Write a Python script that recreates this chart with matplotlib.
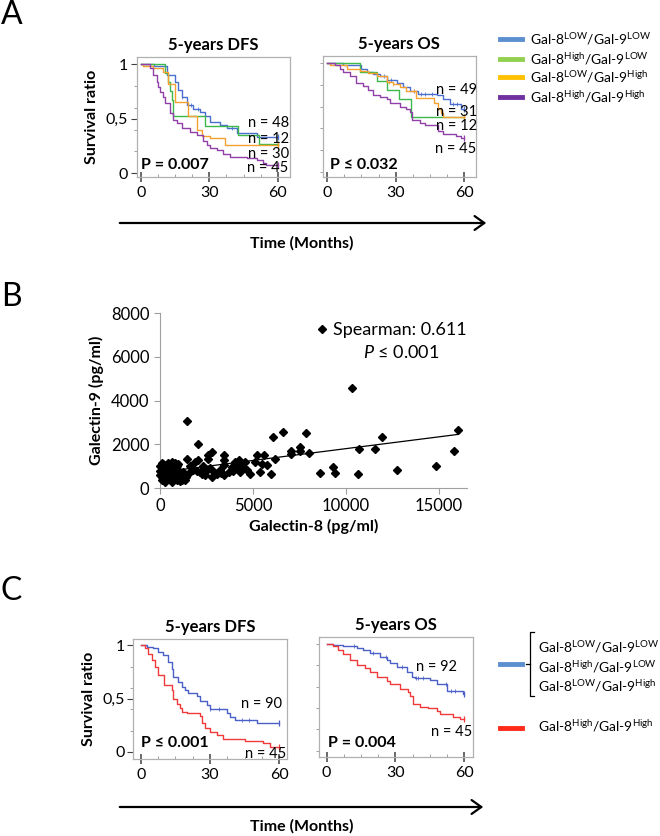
import numpy as np
import matplotlib as mpl
import matplotlib.pyplot as plt
from matplotlib.ticker import FixedLocator, MultipleLocator

mpl.rcParams['font.family'] = ['Lato', 'DejaVu Sans']
mpl.rcParams['mathtext.fontset'] = 'custom'
mpl.rcParams['mathtext.rm'] = 'Lato'
mpl.rcParams['mathtext.it'] = 'Lato:italic'
mpl.rcParams['mathtext.bf'] = 'Lato:bold'

# ---- data: panel A, 4 groups (step times in months, survival ratio) ----
a_dfs_blue_t = [0, 5.7, 11.3, 14.9, 16.4, 17.8, 20, 23, 25.9, 28, 30.3, 34.7, 37.6, 42, 50.8]
a_dfs_blue_s = [1, 0.985, 0.9, 0.84, 0.76, 0.70, 0.625, 0.59, 0.56, 0.52, 0.47, 0.44, 0.41, 0.37, 0.33]
a_dfs_green_t = [0, 10.5, 12, 12.7, 13.5, 14.2, 28, 42.7, 52]
a_dfs_green_s = [1, 0.917, 0.833, 0.75, 0.667, 0.52, 0.43, 0.35, 0.27]
a_dfs_orange_t = [0, 1, 5.4, 9.8, 12, 14.9, 20.6, 24.4, 26.6, 30.3, 36.9]
a_dfs_orange_s = [1, 0.98, 0.96, 0.93, 0.82, 0.65, 0.52, 0.40, 0.34, 0.32, 0.26]
a_dfs_purple_t = [0, 4, 5.4, 6.9, 7.6, 8.3, 9.8, 10.5, 12.7, 14.2, 15.7, 17.9, 21.5, 24.4, 27.4, 28.8,
                  30.3, 33.2, 36.2, 39, 46.4, 50.8, 53.7, 55]
a_dfs_purple_s = [1, 0.96, 0.9, 0.84, 0.79, 0.74, 0.70, 0.64, 0.55, 0.49, 0.46, 0.41, 0.38, 0.35, 0.30, 0.26,
                  0.23, 0.21, 0.18, 0.15, 0.14, 0.12, 0.09, 0.08]

a_os_blue_t = [0, 7, 15, 17.2, 20, 23, 26, 30.4, 33.3, 36.2, 39.9, 47.9, 50.8, 53.7, 58.8]
a_os_blue_s = [1, 0.985, 0.95, 0.92, 0.9, 0.88, 0.85, 0.82, 0.78, 0.74, 0.72, 0.71, 0.67, 0.62, 0.58]
a_os_green_t = [0, 14.3, 21.6, 26.0, 31.5, 36.5]
a_os_green_s = [1, 0.917, 0.833, 0.75, 0.667, 0.5]
a_os_orange_t = [0, 1, 8.5, 14.3, 18, 21.6, 26, 29, 31.8, 34.7, 39, 47, 48.6, 50, 50.8]
a_os_orange_s = [1, 0.985, 0.95, 0.93, 0.91, 0.88, 0.83, 0.81, 0.78, 0.74, 0.68, 0.63, 0.58, 0.54, 0.5]
a_os_purple_t = [0, 3.4, 5.5, 7, 9.9, 12.8, 15.8, 18, 20, 23, 26, 27.4, 31.8, 34.7, 36.2, 37, 40.6, 42.8,
                 48.6, 50.8, 56.6, 58.8]
a_os_purple_s = [1, 0.985, 0.95, 0.92, 0.88, 0.82, 0.79, 0.75, 0.71, 0.69, 0.67, 0.63, 0.60, 0.58, 0.55,
                 0.48, 0.45, 0.43, 0.38, 0.35, 0.33, 0.31]

a_os_blue_cens = [25, 28, 38, 41, 43, 46, 55, 57]
a_os_orange_cens = [27, 29, 38]
a_dfs_blue_cens = [18, 22, 25, 40]

a_dfs_n = ['n = 48', 'n = 12', 'n = 30', 'n = 45']
a_dfs_n_y = [0.46, 0.31, 0.18, 0.045]
a_os_n = ['n = 49', 'n = 31', 'n = 12', 'n = 45']
a_os_n_y = [0.75, 0.55, 0.42, 0.21]

# ---- data: panel B ----
gal8 = [1475, 2033, 6081, 6621, 90, 180, 270, 90, 90, 270, 450, 540, 630, 810, 990, 810, 1079, 1169,
        1349, 1403, 900, 630, 360, 1259, 1475, 1619, 1889, 2069, 1799, 2159, 2249, 2429, 2519, 2555,
        2789, 2555, 2789, 2878, 3058, 3238, 3454, 3418, 3454, 3418, 3688, 3868, 4048, 4228, 4138, 4318,
        4588, 4677, 4857, 5127, 5217, 5577, 5487, 5397, 5757, 5973, 6207, 7025, 7025, 7527, 7527, 8010,
        7849, 10340, 16038, 11917, 10698, 11576, 15805, 14838, 12723, 10626, 9426, 9318, 8620,
        0, 0, 90, 180, 270, 360, 450, 540, 630, 720, 810, 900, 990, 1080, 1170, 180, 0, 270, 450, 720,
        1000, 2300, 2700, 3300, 3900, 4400, 2000, 1600]
gal9 = [3042, 1993, 2327, 2555, 1141, 958, 730, 502, 350, 274, 426, 654, 1186, 1141, 1110, 806, 654, 350,
        380, 502, 350, 274, 578, 730, 1338, 730, 1186, 1262, 806, 730, 654, 578, 806, 1521,
        1643, 1338, 502, 730, 654, 806, 1491, 1262, 1034, 578, 730, 958, 1186, 1262, 958, 730,
        1186, 806, 654, 1186, 1491, 1491, 1110, 730, 1034, 624, 1338, 1707, 1570, 1874, 1692, 1600,
        2530, 4572, 2637, 2332, 1798, 1768, 1692, 1006, 823, 640, 701, 960, 670,
        800, 600, 700, 400, 900, 1000, 800, 450, 900, 350, 600, 1000, 500, 300, 700, 1100, 1000, 550,
        1150, 1000, 800, 1000, 900, 700, 800, 1000, 800, 1000]
fit_intercept = 720
fit_slope = 0.108

# ---- data: panel C, 2 groups ----
c_dfs_blue_t = [0, 2.6, 5.5, 7.6, 9.8, 12, 13.4, 14.1, 16.3, 17.7, 19.2, 20.6, 24.2, 25.7, 28.6, 30,
                37.2, 38.7, 40.8, 50.2]
c_dfs_blue_s = [1, 0.98, 0.97, 0.94, 0.91, 0.84, 0.78, 0.70, 0.66, 0.61, 0.58, 0.55, 0.52, 0.48, 0.44,
                0.40, 0.36, 0.33, 0.30, 0.27]
c_dfs_red_t = [0, 1.9, 3.3, 4.8, 6.2, 7.6, 10.1, 13.4, 14.1, 15.6, 17, 17.7, 19.9, 25.7, 26.4, 27.8, 30,
               32.9, 35.8, 45, 53, 56]
c_dfs_red_s = [1, 0.97, 0.92, 0.86, 0.80, 0.72, 0.63, 0.58, 0.5, 0.45, 0.41, 0.375, 0.36, 0.34, 0.27,
               0.22, 0.19, 0.16, 0.125, 0.10, 0.08, 0.05]
c_os_blue_t = [0, 2.9, 7.3, 13.1, 16, 18.9, 23.3, 26.2, 27.6, 30.5, 34.9, 37.1, 38.5, 45, 48, 52.3, 59.6]
c_os_blue_s = [1, 0.99, 0.975, 0.96, 0.94, 0.91, 0.88, 0.85, 0.82, 0.78, 0.74, 0.69, 0.68, 0.66, 0.62,
               0.56, 0.53]
c_os_red_t = [0, 2.9, 5.1, 7.3, 10.2, 13.1, 16.7, 18.9, 21.8, 26.2, 27.6, 32, 35.6, 36.3, 37.8, 40.7,
              44.3, 48, 49.4, 55.2, 58.1]
c_os_red_s = [1, 0.975, 0.94, 0.9, 0.85, 0.8, 0.77, 0.74, 0.69, 0.65, 0.62, 0.58, 0.55, 0.51, 0.44, 0.41,
              0.40, 0.37, 0.34, 0.32, 0.30]
c_dfs_blue_cens = [30, 34, 44, 47]
c_os_blue_cens = [12, 20, 26, 33, 39, 40, 42, 52, 54, 56]

legend_a = [r'Gal-8$^{\mathrm{LOW}}$/Gal-9$^{\mathrm{LOW}}$',
            r'Gal-8$^{\mathrm{High}}$/Gal-9$^{\mathrm{LOW}}$',
            r'Gal-8$^{\mathrm{LOW}}$/Gal-9$^{\mathrm{High}}$',
            r'Gal-8$^{\mathrm{High}}$/Gal-9$^{\mathrm{High}}$']
legend_a_colors = ['#5b8fd0', '#92d050', '#ffc000', '#7030a0']
line_a_colors = ['#4a6fcf', '#3cb94a', '#f5a030', '#9040a8']

W, H = 660, 836
fig = plt.figure(figsize=(W / 100, H / 100), dpi=100)

TICK_FS = 11.5
N_FS = 10.5
P_FS = 11.5
TITLE_FS = 12
LAB_FS = 11.5
LEG_FS = 10


def ax_px(l, t, r, b):
    return fig.add_axes([l / W, 1 - b / H, (r - l) / W, (b - t) / H])


def km(ax, t, s, c, cens=()):
    t = list(t) + [60]
    s = list(s) + [s[-1]]
    ax.step(t, s, where='post', color=c, lw=1.0)
    ax.plot([60], [s[-1]], '|', color=c, ms=5, mew=0.9)
    if len(cens):
        idx = np.searchsorted(t, cens, side='right') - 1
        ax.plot(cens, np.array(s)[idx], '|', color=c, ms=3.5, mew=0.7, alpha=0.8)


def style_km(ax, xlim, ylim, labels):
    ax.set_xlim(*xlim)
    ax.set_ylim(*ylim)
    for sp in ax.spines.values():
        sp.set_color('#b0b0b0')
        sp.set_linewidth(0.9)
    ax.xaxis.set_major_locator(FixedLocator([0, 30, 60]))
    ax.xaxis.set_minor_locator(MultipleLocator(7.5))
    ax.tick_params(axis='x', which='major', direction='inout', length=7, width=1.1, color='#404040',
                   labelsize=TICK_FS, pad=3)
    ax.tick_params(axis='x', which='minor', direction='in', length=2, color='#909090')
    ax.yaxis.set_minor_locator(MultipleLocator(0.2))
    ax.tick_params(axis='y', which='minor', direction='out', length=2, color='#909090')
    if labels:
        ax.yaxis.set_major_locator(FixedLocator([0, 0.5, 1]))
        ax.set_yticklabels(['0', '0,5', '1'])
        ax.tick_params(axis='y', which='major', direction='out', length=4, color='#404040',
                       labelsize=TICK_FS, pad=2)
    else:
        ax.yaxis.set_major_locator(FixedLocator([]))


def time_arrow(y, x0, x1, label_y):
    fig.add_artist(mpl.patches.FancyArrowPatch((x0 / W, 1 - y / H), (x1 / W, 1 - y / H),
                                               transform=fig.transFigure,
                                               arrowstyle='->,head_length=7,head_width=5',
                                               color='black', lw=1.6, mutation_scale=1))
    fig.text(302 / W, 1 - label_y / H, 'Time (Months)', ha='center', va='center', fontsize=LAB_FS,
             fontweight='bold')


# ================= Panel A =================
fig.text(1 / W, 1 - 15 / H, 'A', fontsize=23, va='center', ha='left')
ax1 = ax_px(136.7, 56.7, 290, 177)
km(ax1, a_dfs_blue_t, a_dfs_blue_s, line_a_colors[0], a_dfs_blue_cens)
km(ax1, a_dfs_green_t, a_dfs_green_s, line_a_colors[1])
km(ax1, a_dfs_orange_t, a_dfs_orange_s, line_a_colors[2])
km(ax1, a_dfs_purple_t, a_dfs_purple_s, line_a_colors[3])
style_km(ax1, (-1.9, 65.4), (-0.034, 1.067), True)
for lab, yy in zip(a_dfs_n, a_dfs_n_y):
    ax1.text(64.8, yy, lab, ha='right', va='center', fontsize=N_FS)
ax1.text(0, 0.08, 'P = 0.007', fontsize=P_FS, fontweight='bold', va='center')
ax1.set_title('5-years DFS', fontsize=TITLE_FS, fontweight='bold', pad=5)
ax1.set_ylabel('Survival ratio', fontsize=LAB_FS, fontweight='bold', labelpad=5)

ax2 = ax_px(322.7, 56, 476, 176.7)
km(ax2, a_os_blue_t, a_os_blue_s, line_a_colors[0], a_os_blue_cens)
km(ax2, a_os_green_t, a_os_green_s, line_a_colors[1])
km(ax2, a_os_orange_t, a_os_orange_s, line_a_colors[2], a_os_orange_cens)
km(ax2, a_os_purple_t, a_os_purple_s, line_a_colors[3])
style_km(ax2, (-2.0, 65.2), (-0.046, 1.067), False)
for lab, yy in zip(a_os_n, a_os_n_y):
    ax2.text(65.5, yy, lab, ha='right', va='center', fontsize=N_FS)
ax2.text(1, 0.06, 'P ≤ 0.032', fontsize=P_FS, fontweight='bold', va='center')
ax2.set_title('5-years OS', fontsize=TITLE_FS, fontweight='bold', pad=5)

legend_a_y = [39, 59, 77, 97]
for lab, c, yy in zip(legend_a, legend_a_colors, legend_a_y):
    fig.add_artist(mpl.lines.Line2D([500 / W, 522 / W], [1 - yy / H, 1 - yy / H], color=c, lw=3.5,
                                    transform=fig.transFigure))
    fig.text(530 / W, 1 - yy / H, lab, fontsize=LEG_FS, va='center', ha='left')

time_arrow(223, 117, 489, 243)

# ================= Panel B =================
fig.text(1 / W, 1 - 297 / H, 'B', fontsize=23, va='center', ha='left')
ax3 = ax_px(160, 313, 467, 488)
ax3.plot(gal8, gal9, 'D', color='black', ms=4.2, clip_on=False, zorder=3)
xf = np.array([0, max(gal8)])
ax3.plot(xf, fit_intercept + fit_slope * xf, color='black', lw=0.9)
ax3.set_xlim(0, 16500)
ax3.set_ylim(0, 8000)
ax3.set_xticks([0, 5000, 10000, 15000])
ax3.set_yticks([0, 2000, 4000, 6000, 8000])
for sp in ['top', 'right']:
    ax3.spines[sp].set_visible(False)
for sp in ['left', 'bottom']:
    ax3.spines[sp].set_color('#a0a0a0')
ax3.tick_params(axis='both', color='#a0a0a0', labelsize=12, length=4)
ax3.set_xlabel('Galectin-8 (pg/ml)', fontsize=LAB_FS, fontweight='bold', labelpad=3)
ax3.set_ylabel('Galectin-9 (pg/ml)', fontsize=LAB_FS, fontweight='bold', labelpad=5)
fig.add_artist(mpl.lines.Line2D([322 / W], [1 - 329 / H], marker='D', color='black', ms=4,
                                transform=fig.transFigure))
fig.text(333 / W, 1 - 330 / H, 'Spearman: 0.611', fontsize=13, va='center', ha='left')
fig.text(401 / W, 1 - 353 / H, r'$P$ ≤ 0.001', fontsize=13, va='center', ha='center')

# ================= Panel C =================
fig.text(1 / W, 1 - 591 / H, 'C', fontsize=23, va='center', ha='left')
blue_c, red_c = '#4a5fc8', '#f03a3a'
ax4 = ax_px(133.3, 639.3, 287.3, 759.3)
km(ax4, c_dfs_blue_t, c_dfs_blue_s, blue_c, c_dfs_blue_cens)
km(ax4, c_dfs_red_t, c_dfs_red_s, red_c)
style_km(ax4, (-3.2, 63.5), (-0.07, 1.056), True)
ax4.text(61, 0.45, 'n = 90', ha='right', va='center', fontsize=N_FS)
ax4.text(63, -0.02, 'n = 45', ha='right', va='center', fontsize=N_FS)
ax4.text(0, 0.08, 'P ≤ 0.001', fontsize=P_FS, fontweight='bold', va='center')
ax4.set_title('5-years DFS', fontsize=TITLE_FS, fontweight='bold', pad=5)
ax4.set_ylabel('Survival ratio', fontsize=LAB_FS, fontweight='bold', labelpad=5)

ax5 = ax_px(319.3, 637.3, 473.3, 757.3)
km(ax5, c_os_blue_t, c_os_blue_s, blue_c, c_os_blue_cens)
km(ax5, c_os_red_t, c_os_red_s, red_c)
style_km(ax5, (-3.2, 63.9), (-0.06, 1.06), False)
ax5.text(57, 0.78, 'n = 92', ha='right', va='center', fontsize=N_FS)
ax5.text(63.5, 0.18, 'n = 45', ha='right', va='center', fontsize=N_FS)
ax5.text(0.5, 0.075, 'P = 0.004', fontsize=P_FS, fontweight='bold', va='center')
ax5.set_title('5-years OS', fontsize=TITLE_FS, fontweight='bold', pad=5)

fig.add_artist(mpl.lines.Line2D([500 / W, 522 / W], [1 - 664 / H, 1 - 664 / H], color='#5b8fd0', lw=3.5,
                                transform=fig.transFigure))
fig.add_artist(mpl.lines.Line2D([534 / W, 530 / W, 530 / W, 534 / W],
                                [1 - 632 / H, 1 - 632 / H, 1 - 696 / H, 1 - 696 / H],
                                color='black', lw=0.9, transform=fig.transFigure))
fig.add_artist(mpl.lines.Line2D([526 / W, 530 / W], [1 - 664 / H, 1 - 664 / H], color='black', lw=0.9,
                                transform=fig.transFigure))
for lab, yy in zip(legend_a[:3], [647, 667, 686]):
    fig.text(538 / W, 1 - yy / H, lab, fontsize=LEG_FS, va='center', ha='left')
fig.add_artist(mpl.lines.Line2D([500 / W, 522 / W], [1 - 728 / H, 1 - 728 / H], color='#ff2a1a', lw=3.5,
                                transform=fig.transFigure))
fig.text(538 / W, 1 - 726 / H, legend_a[3], fontsize=LEG_FS, va='center', ha='left')

time_arrow(807, 117, 486, 826)

fig.savefig('out.png', dpi=100)
